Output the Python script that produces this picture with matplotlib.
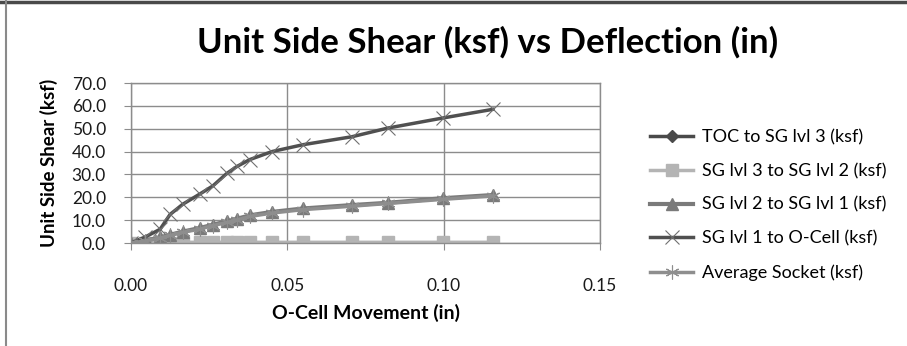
import numpy as np
import matplotlib
matplotlib.use("Agg")
import matplotlib.pyplot as plt
from matplotlib.lines import Line2D

plt.rcParams['font.family'] = ['Lato', 'DejaVu Sans']

# data
movement = [0.0, 0.0045, 0.0093, 0.0125, 0.0166, 0.0221, 0.0262, 0.0307, 0.0339,
            0.038, 0.0451, 0.055, 0.0707, 0.0822, 0.0998, 0.1158]
toc_sg3 = [0.0] * 16
sg3_sg2 = [0.0, 0.1, 0.2, 0.2, 0.3, 0.3, 0.3, 0.3, 0.3, 0.3, 0.3, 0.3, 0.3, 0.3, 0.3, 0.3]
sg2_sg1 = [0.0, 1.0, 2.5, 3.6, 5.0, 6.6, 8.0, 9.5, 10.6, 12.1, 13.6, 15.1, 16.6, 17.6, 19.6, 21.0]
sg1_ocell = [0.0, 2.6, 6.0, 12.5, 17.0, 21.5, 25.0, 30.5, 33.5, 36.5, 40.0, 43.0, 46.5, 50.3, 54.7, 58.5]
avg_socket = [0.0, 0.9, 2.2, 3.3, 4.7, 6.1, 7.6, 9.0, 10.1, 11.6, 13.1, 14.6, 16.1, 17.3, 19.1, 20.6]

labels = ['TOC to SG lvl 3 (ksf)', 'SG lvl 3 to SG lvl 2 (ksf)', 'SG lvl 2 to SG lvl 1 (ksf)',
          'SG lvl 1 to O-Cell (ksf)', 'Average Socket (ksf)']
xticks = [0.0, 0.05, 0.10, 0.15]
yticks = [0, 10, 20, 30, 40, 50, 60, 70]

fig = plt.figure(figsize=(9.07, 3.46), dpi=100)
ax = fig.add_axes([131/907, 1-243/346, 469/907, 160/346])

grid_c = '#8c8c8c'
ax.plot(movement, toc_sg3, color='#4a4a4a', lw=2.5, marker='D', ms=6, label=labels[0])
ax.plot(movement, sg3_sg2, color='#b4b4b4', lw=2.5, marker='s', ms=9, label=labels[1])
ax.plot(movement, sg2_sg1, color='#7a7a7a', lw=3, marker='^', ms=8, label=labels[2])
ax.plot(movement, sg1_ocell, color='#505050', lw=2.5, marker='x', ms=10, mew=0.8,
        mec='#707070', label=labels[3])
ax.plot(movement, avg_socket, color='#8e8e8e', lw=2.5, marker=(6, 2, 0), ms=10, mew=0.8,
        mec='#8e8e8e', label=labels[4])

ax.set_xlim(0, 0.15)
ax.set_ylim(0, 70)
ax.set_xticks(xticks)
ax.set_yticks(yticks)
ax.set_xticklabels(['%.2f' % v for v in xticks])
ax.set_yticklabels(['%.1f' % v for v in yticks])
ax.grid(True, color=grid_c, lw=1)
ax.set_axisbelow(True)
for s in ax.spines.values():
    s.set_color(grid_c)
    s.set_linewidth(1)
ax.tick_params(axis='x', length=5, color=grid_c, pad=20, labelsize=12.5, labelcolor='#1a1a1a')
ax.tick_params(axis='y', length=5, color=grid_c, pad=13, labelsize=12.5, labelcolor='#1a1a1a')

ax.set_xlabel('O-Cell Movement (in)', fontsize=14, fontweight='bold', labelpad=7)
ax.set_ylabel('Unit Side Shear (ksf)', fontsize=13.5, fontweight='bold', labelpad=10)
fig.text(488/907, 1-42/346, 'Unit Side Shear (ksf) vs Deflection (in)', ha='center', va='center',
         fontsize=25, fontweight='bold')

fig.legend(loc='center left', bbox_to_anchor=(650/907, 1-205/346), frameon=False,
           fontsize=13, handlelength=2.4, handletextpad=0.5, labelspacing=0.98,
           borderpad=0, borderaxespad=0)

# chart frame edges
fig.add_artist(Line2D([0, 1], [1-1.5/346, 1-1.5/346], color='#4a4a4a', lw=2.5,
                      transform=fig.transFigure))
fig.add_artist(Line2D([5.5/907, 5.5/907], [0, 1], color='#8a8a8a', lw=1.5,
                      transform=fig.transFigure))

fig.savefig('out.png', dpi=100)
